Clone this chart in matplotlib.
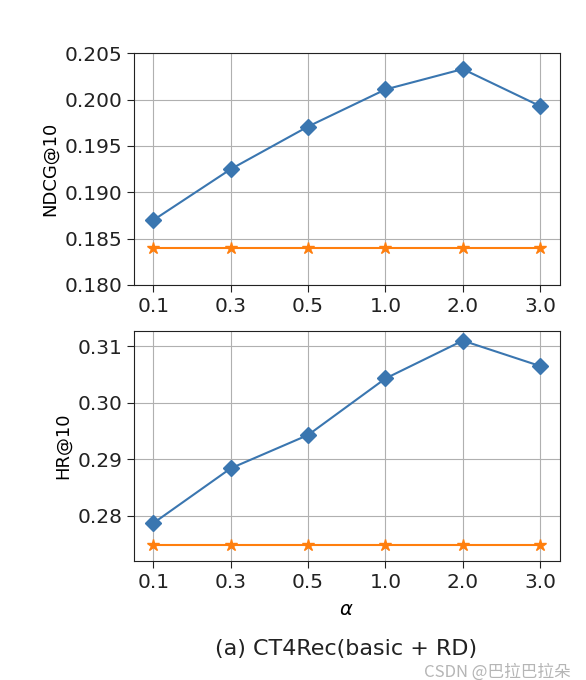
import matplotlib.pyplot as plt
import numpy as np

plt.rcParams['font.family'] = ['DejaVu Sans', 'Noto Sans CJK SC']

alpha_labels = ['0.1', '0.3', '0.5', '1.0', '2.0', '3.0']
ndcg_ours = [0.1870, 0.1925, 0.1971, 0.2011, 0.2033, 0.1993]
ndcg_base = [0.1840, 0.1840, 0.1840, 0.1840, 0.1840, 0.1840]
hr_ours = [0.2787, 0.2884, 0.2943, 0.3043, 0.3110, 0.3065]
hr_base = [0.2748, 0.2748, 0.2748, 0.2748, 0.2748, 0.2748]

fig = plt.figure(figsize=(5.86, 6.8), dpi=100)
ax1 = fig.add_axes([0.2287, 0.5809, 0.7261, 0.3407])
ax2 = fig.add_axes([0.2287, 0.1750, 0.7261, 0.3382])

x = np.arange(len(alpha_labels))
blue = '#3a76b0'
orange = '#ff7f0e'

# NDCG
ax1.plot(x, ndcg_ours, marker='D', color=blue, markersize=8.5, linewidth=1.5)
ax1.plot(x, ndcg_base, marker='*', color=orange, markersize=9, linewidth=1.5)
ax1.set_ylim(0.180, 0.205)
ax1.set_yticks([0.180, 0.185, 0.190, 0.195, 0.200, 0.205])
ax1.set_ylabel('NDCG@10', fontsize=13)

# HR
ax2.plot(x, hr_ours, marker='D', color=blue, markersize=8.5, linewidth=1.5)
ax2.plot(x, hr_base, marker='*', color=orange, markersize=9, linewidth=1.5)
ax2.set_ylim(0.2720, 0.3127)
ax2.set_yticks([0.28, 0.29, 0.30, 0.31])
ax2.set_ylabel('HR@10', fontsize=13)
ax2.set_xlabel(r'$\alpha$', fontsize=14, labelpad=6)

for ax in (ax1, ax2):
    ax.set_xticks(x)
    ax.set_xticklabels(alpha_labels)
    ax.set_xlim(-0.25, 5.25)
    ax.grid(True, color='#b0b0b0', linewidth=0.8)
    ax.tick_params(labelsize=14.5, colors='#222222', length=5)
    for s in ax.spines.values():
        s.set_color('#222222')

fig.text(0.59, 0.046, '(a) CT4Rec(basic + RD)', ha='center', va='center',
         fontsize=16, color='#222222')
# watermark
fig.text(0.973, 0.012, 'CSDN @巴拉巴拉朵', ha='right', va='center',
         fontsize=12, color='#b5b5b5',
         family=['Noto Sans CJK SC', 'DejaVu Sans'])

fig.savefig('out.png', dpi=100)
